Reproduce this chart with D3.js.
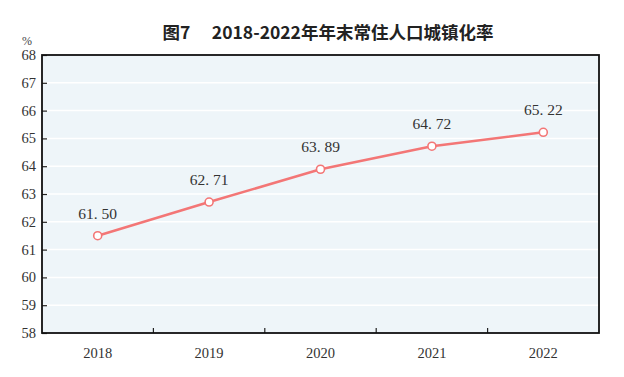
<!DOCTYPE html>
<html><head><meta charset="utf-8">
<script src="https://cdn.jsdelivr.net/npm/d3@7"></script>
<style>body{margin:0;background:#fff}svg{display:block}</style>
</head><body>
<svg id="c" width="624" height="377"></svg>
<script>
const years = ["2018","2019","2020","2021","2022"];
const rates = [61.50, 62.71, 63.89, 64.72, 65.22];
const yTicks = [58,59,60,61,62,63,64,65,66,67,68];
const titleText = "图7\u3000 2018-2022年年末常住人口城镇化率";
const unitText = "%";

const svg = d3.select("#c");
const m = {l:42, t:55, r:599, b:333};
const x = d3.scaleBand().domain(years).range([m.l, m.r]).padding(0);
const y = d3.scaleLinear().domain([58,68]).range([m.b, m.t]);
const serif = "'Liberation Serif','DejaVu Serif',serif";

svg.append("rect").attr("x",m.l).attr("y",m.t).attr("width",m.r-m.l).attr("height",m.b-m.t).attr("fill","#eef5f9");
svg.append("g").selectAll("line").data(yTicks.slice(1,-1)).join("line")
  .attr("x1",m.l).attr("x2",m.r).attr("y1",d=>y(d)).attr("y2",d=>y(d))
  .attr("stroke","#fff").attr("stroke-width",1.5);

// y axis
const ya = svg.append("g").attr("transform",`translate(${m.l},0)`)
  .call(d3.axisRight(y).tickValues(yTicks).tickSize(5).tickFormat(""));
ya.select(".domain").remove();
ya.selectAll("line").attr("stroke","#222").attr("stroke-width",1.2);
svg.append("g").selectAll("text").data(yTicks).join("text")
  .attr("x",36).attr("y",d=>y(d)+5).attr("text-anchor","end")
  .attr("font-family",serif).attr("font-size",14.5).attr("fill","#333").text(d=>d);

// x axis
const xa = svg.append("g").attr("transform",`translate(0,${m.b})`)
  .call(d3.axisTop(x).tickSize(0).tickFormat(""));
xa.select(".domain").remove();
svg.append("g").selectAll("line").data(years.slice(1)).join("line")
  .attr("x1",d=>x(d)).attr("x2",d=>x(d)).attr("y1",m.b).attr("y2",m.b-5)
  .attr("stroke","#222").attr("stroke-width",1.2);
svg.append("g").selectAll("text").data(years).join("text")
  .attr("x",d=>x(d)+x.bandwidth()/2).attr("y",358).attr("text-anchor","middle")
  .attr("font-family",serif).attr("font-size",14.5).attr("fill","#333").text(d=>d);

// border
svg.append("rect").attr("x",m.l).attr("y",m.t).attr("width",m.r-m.l).attr("height",m.b-m.t)
  .attr("fill","none").attr("stroke","#111").attr("stroke-width",1.8);

// line
const line = d3.line().x((d,i)=>x(years[i])+x.bandwidth()/2).y(d=>y(d));
svg.append("path").datum(rates).attr("d",line).attr("fill","none")
  .attr("stroke","#f37676").attr("stroke-width",2.5);
svg.append("g").selectAll("circle").data(rates).join("circle")
  .attr("cx",(d,i)=>x(years[i])+x.bandwidth()/2).attr("cy",d=>y(d)).attr("r",4)
  .attr("fill","#fff").attr("stroke","#f37676").attr("stroke-width",1.6);
svg.append("g").selectAll("text").data(rates).join("text")
  .attr("x",(d,i)=>x(years[i])+x.bandwidth()/2).attr("y",d=>y(d)-17)
  .attr("text-anchor","middle").attr("font-family",serif).attr("font-size",15.5).attr("fill","#333")
  .text(d=>d3.format(".2f")(d).replace(".",". "));

// title & unit
svg.append("text").attr("x",328).attr("y",39).attr("text-anchor","middle")
  .attr("font-family","'Noto Sans CJK SC',sans-serif").attr("font-weight","bold").attr("font-size",17.5)
  .attr("fill","#222").text(titleText);
svg.append("text").attr("x",27).attr("y",45).attr("text-anchor","middle")
  .attr("font-family",serif).attr("font-size",12).attr("fill","#444").text(unitText);
</script>
</body></html>
